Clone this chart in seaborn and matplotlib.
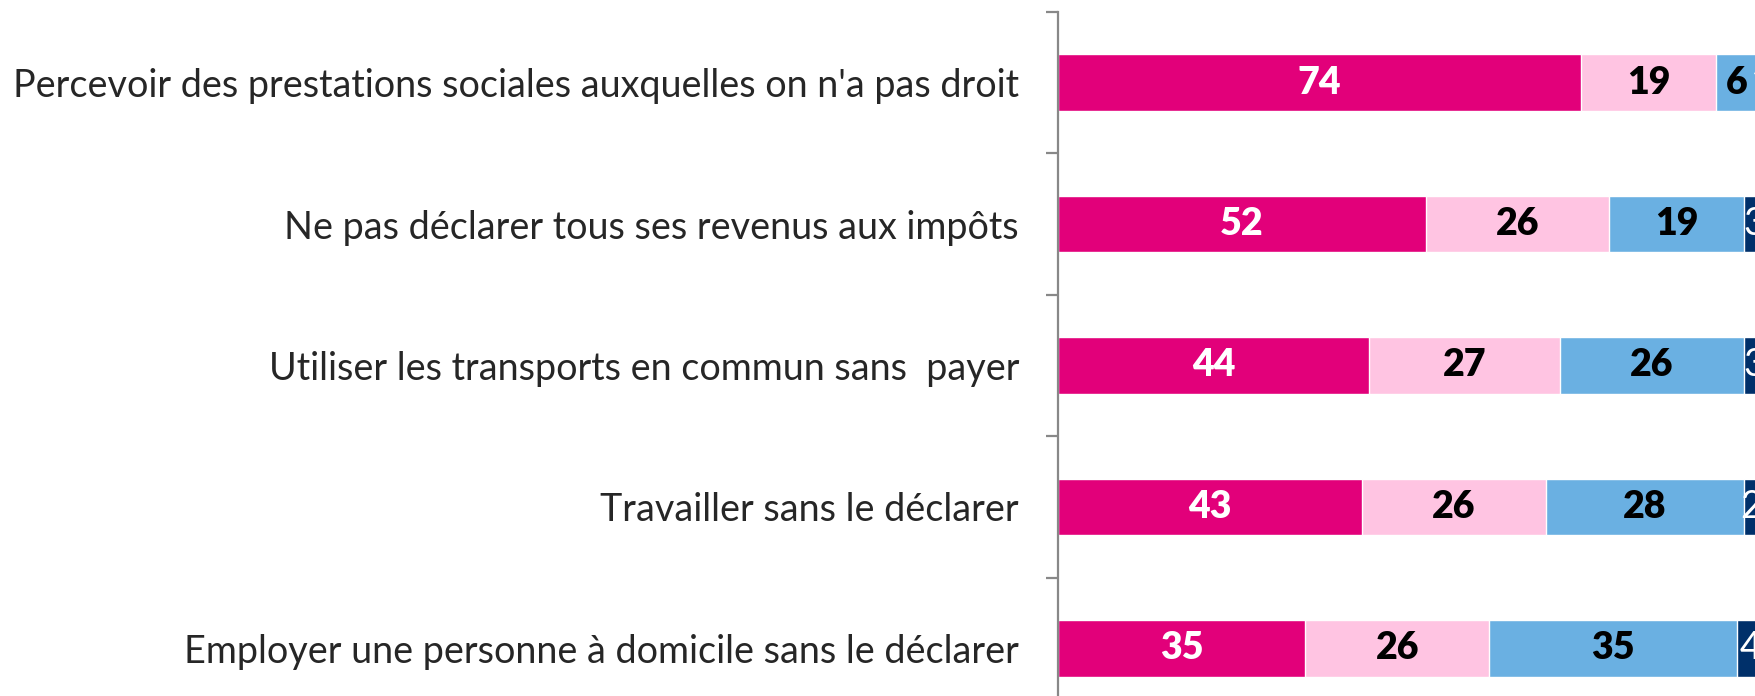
import seaborn as sns
import matplotlib.pyplot as plt
import pandas as pd
import numpy as np

# Categories (top to bottom) and the four stacked series
categories = [
    "Percevoir des prestations sociales auxquelles on n'a pas droit",
    "Ne pas déclarer tous ses revenus aux impôts",
    "Utiliser les transports en commun sans  payer",
    "Travailler sans le déclarer",
    "Employer une personne à domicile sans le déclarer",
]
serie_1 = [74, 52, 44, 43, 35]
serie_2 = [19, 26, 27, 26, 26]
serie_3 = [6, 19, 26, 28, 35]
serie_4 = [1, 3, 3, 2, 4]

series = [serie_1, serie_2, serie_3, serie_4]
colors = ["#E2007A", "#FFC4E2", "#6AB0E2", "#00306A"]
text_colors = ["white", "black", "black", "white"]
text_weights = ["heavy", "heavy", "heavy", "normal"]

sns.set_style("white")
plt.rcParams["font.family"] = ["Lato", "DejaVu Sans"]

fig = plt.figure(figsize=(17.55, 6.96), dpi=100)
# axes run past the right and bottom edges, like the cropped original
ax = fig.add_axes([1058 / 1755, -23 / 696, 697 / 1755, 707 / 696])

cum = np.cumsum(np.array(series), axis=0)
# draw cumulative totals from the largest down so segments stack
for i in range(len(series) - 1, -1, -1):
    df = pd.DataFrame({"cat": categories, "val": cum[i]})
    sns.barplot(data=df, x="val", y="cat", orient="h", color=colors[i],
                width=0.4, saturation=1, ax=ax)

# value labels in the middle of each segment
for i, s in enumerate(series):
    left = cum[i] - np.array(s)
    for j, v in enumerate(s):
        ax.text(left[j] + v / 2, j, str(v), ha="center", va="center",
                fontsize=27, color=text_colors[i], fontweight=text_weights[i],
                clip_on=True)

ax.set_xlim(0, 697 / 7.07)
ax.set_ylim(len(categories) - 0.5, -0.5)
ax.set_xlabel("")
ax.set_ylabel("")
ax.set_xticks([])

for side in ["top", "right", "bottom"]:
    ax.spines[side].set_visible(False)
ax.spines["left"].set_color("#888888")
ax.spines["left"].set_linewidth(1.6)

ax.set_yticks(np.arange(-0.5, len(categories), 1.0), minor=True)
ax.tick_params(axis="y", which="minor", length=9, width=1.6,
               color="#888888", direction="out", left=True)
ax.tick_params(axis="y", which="major", length=0, pad=28, labelsize=27.2)

fig.savefig("out.png", dpi=100)
